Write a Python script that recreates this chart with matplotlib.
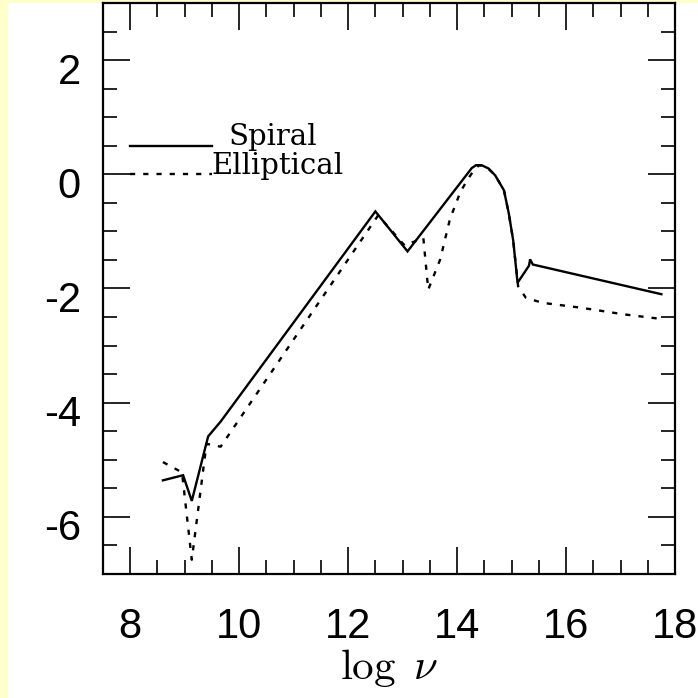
import matplotlib
matplotlib.use("Agg")
import matplotlib.pyplot as plt
import matplotlib.transforms as mtransforms
from matplotlib.patches import Rectangle
from matplotlib.ticker import MultipleLocator

plt.rcParams["mathtext.fontset"] = "cm"
plt.rcParams["axes.unicode_minus"] = False

# log nu vs log (nu L_nu)
spiral_x = [8.60, 8.97, 9.13, 9.43, 9.66, 12.50, 13.09, 14.27, 14.35, 14.45,
            14.58, 14.70, 14.86, 14.95, 15.03, 15.11, 15.32, 15.34, 15.39, 17.75]
spiral_y = [-5.36, -5.27, -5.72, -4.59, -4.33, -0.65, -1.35, 0.11, 0.16, 0.16,
            0.10, -0.02, -0.28, -0.69, -1.16, -1.90, -1.60, -1.49, -1.58, -2.10]

elliptical_x = [8.60, 8.95, 9.13, 9.40, 9.66, 12.55, 13.04, 13.38, 13.47, 13.69,
                13.87, 14.06, 14.20, 14.33, 14.41, 14.55, 14.70, 14.86, 14.95,
                15.03, 15.12, 15.26, 15.56, 16.30, 17.04, 17.72]
elliptical_y = [-5.04, -5.22, -6.75, -4.72, -4.77, -0.72, -1.25, -1.11, -2.02, -1.49,
                -0.78, -0.31, -0.08, 0.10, 0.16, 0.12, -0.02, -0.28, -0.69,
                -1.16, -1.96, -2.16, -2.25, -2.34, -2.45, -2.53]

xticks = [8, 10, 12, 14, 16, 18]
yticks = [-6, -4, -2, 0, 2]

fig = plt.figure(figsize=(6.98, 6.98), dpi=100, facecolor="#ffffcc")
fig.add_artist(Rectangle((8 / 698, 0), 1, 1 - 3 / 698, transform=fig.transFigure,
                         facecolor="white", edgecolor="none", zorder=0))
ax = fig.add_axes([103 / 698, 1 - 574 / 698, 572 / 698, 571 / 698])
ax.set_facecolor("white")

ax.plot(spiral_x, spiral_y, color="black", lw=1.7, solid_joinstyle="miter")
ax.plot(elliptical_x, elliptical_y, color="black", lw=1.7, linestyle=(0, (2.2, 3.4)))

# legend drawn by hand, like the original
ax.plot([0.047, 0.19], [0.75, 0.75], color="black", lw=1.7, transform=ax.transAxes)
ax.text(0.219, 0.752, "Spiral", transform=ax.transAxes, fontsize=21,
        family="DejaVu Serif", va="baseline", ha="left")
ax.plot([0.047, 0.19], [0.70, 0.70], color="black", lw=1.7,
        linestyle=(0, (2.2, 3.4)), transform=ax.transAxes)
ax.text(0.19, 0.70, "Elliptical", transform=ax.transAxes, fontsize=21,
        family="DejaVu Serif", va="baseline", ha="left")

ax.set_xlim(7.5, 18)
ax.set_ylim(-7, 3)
ax.set_xticks(xticks)
ax.set_yticks(yticks)
ax.xaxis.set_minor_locator(MultipleLocator(0.5))
ax.yaxis.set_minor_locator(MultipleLocator(0.5))
ax.tick_params(which="both", direction="in", top=True, right=True, width=1.2,
               colors="black")
ax.tick_params(which="major", length=19.5, labelsize=30)
ax.tick_params(which="minor", length=10)
ax.tick_params(axis="x", which="major", pad=24)
ax.tick_params(axis="y", which="major", pad=16)
for lab in ax.get_xticklabels() + ax.get_yticklabels():
    lab.set_family("Liberation Sans")
offset = mtransforms.ScaledTranslation(0, -8 / 100, fig.dpi_scale_trans)
for lab in ax.get_yticklabels():
    lab.set_transform(lab.get_transform() + offset)
for s in ax.spines.values():
    s.set_linewidth(1.6)

ax.set_xlabel(r"$\log\ \nu$", fontsize=31, labelpad=0)

fig.savefig("out.png", dpi=100, facecolor=fig.get_facecolor())
